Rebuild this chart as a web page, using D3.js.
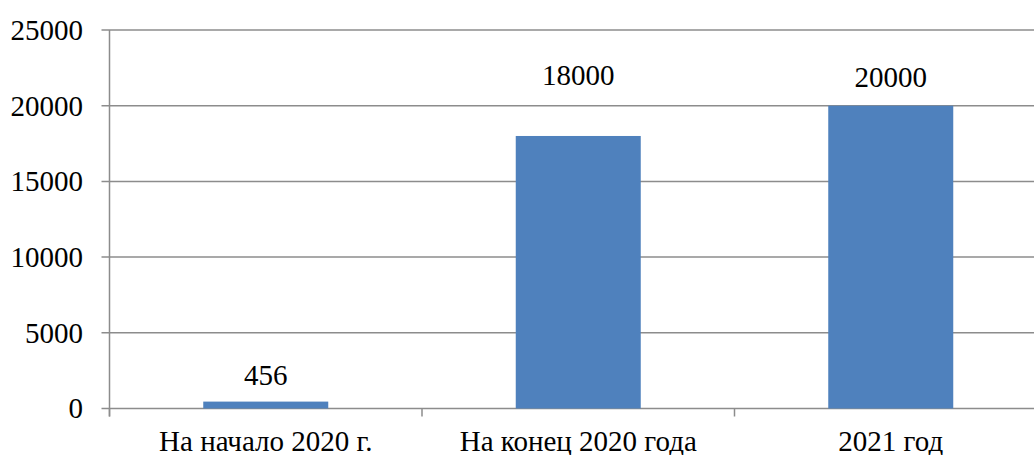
<html>
<script src="https://d3js.org/d3.v7.min.js"></script>
<style>
body {margin: 0; background: #fff;}
</style>
<body>
<svg width="1034" height="455" font-family="'Liberation Serif', 'DejaVu Serif', serif"></svg>
<script>
// data
var categories = ["На начало 2020 г.", "На конец 2020 года", "2021 год"];
var values = [456, 18000, 20000];
var yTicks = [0, 5000, 10000, 15000, 20000, 25000];
// label offsets above bar tops (excel placed them unevenly)
var labelDy = [17, 51, 19];

var svg = d3.select("svg");
var plotLeft = 109.5, plotRight = 1047, plotTop = 30, plotBottom = 408.5;
var fontSize = 29;
var gridColor = "#8c8c8c";

var xs = d3.scaleBand().domain(categories).range([plotLeft, plotRight]).paddingInner(0.6).paddingOuter(0.3);
var ys = d3.scaleLinear().domain([0, 25000]).range([plotBottom, plotTop]);

// gridlines
svg.append("g").selectAll("line").data(yTicks).enter().append("line")
   .attr("x1", plotLeft - 8).attr("x2", plotRight)
   .attr("y1", function(d){return ys(d);}).attr("y2", function(d){return ys(d);})
   .style("stroke", gridColor).style("stroke-width", 1.5);

// y axis line
svg.append("line").attr("x1", plotLeft).attr("x2", plotLeft).attr("y1", plotTop).attr("y2", plotBottom + 8)
   .style("stroke", gridColor).style("stroke-width", 1.5);

// x ticks between categories
var xTickPos = d3.range(categories.length + 1).map(function(i){return plotLeft + i * (plotRight - plotLeft) / categories.length;});
svg.append("g").selectAll("line").data(xTickPos).enter().append("line")
   .attr("x1", function(d){return d;}).attr("x2", function(d){return d;})
   .attr("y1", plotBottom).attr("y2", plotBottom + 8)
   .style("stroke", gridColor).style("stroke-width", 1.5);

// y labels
svg.append("g").selectAll("text").data(yTicks).enter().append("text")
   .attr("x", 83).attr("y", function(d){return ys(d);})
   .attr("dy", "0.34em")
   .style("text-anchor", "end").style("font-size", fontSize + "px")
   .text(function(d){return d;});

// bars
svg.append("g").selectAll("rect").data(values).enter().append("rect")
   .attr("x", function(d, i){return xs(categories[i]);})
   .attr("width", xs.bandwidth())
   .attr("y", function(d){return ys(d);})
   .attr("height", function(d){return ys(0) - ys(d);})
   .style("fill", "#4f81bd");

// value labels
svg.append("g").selectAll("text").data(values).enter().append("text")
   .attr("x", function(d, i){return xs(categories[i]) + xs.bandwidth() / 2;})
   .attr("y", function(d, i){return ys(d) - labelDy[i];})
   .style("text-anchor", "middle").style("font-size", fontSize + "px")
   .text(function(d){return d;});

// category labels
svg.append("g").selectAll("text").data(categories).enter().append("text")
   .attr("x", function(d){return xs(d) + xs.bandwidth() / 2;})
   .attr("y", 451)
   .style("text-anchor", "middle").style("font-size", fontSize + "px")
   .text(function(d){return d;});
</script>
</body>
</html>
